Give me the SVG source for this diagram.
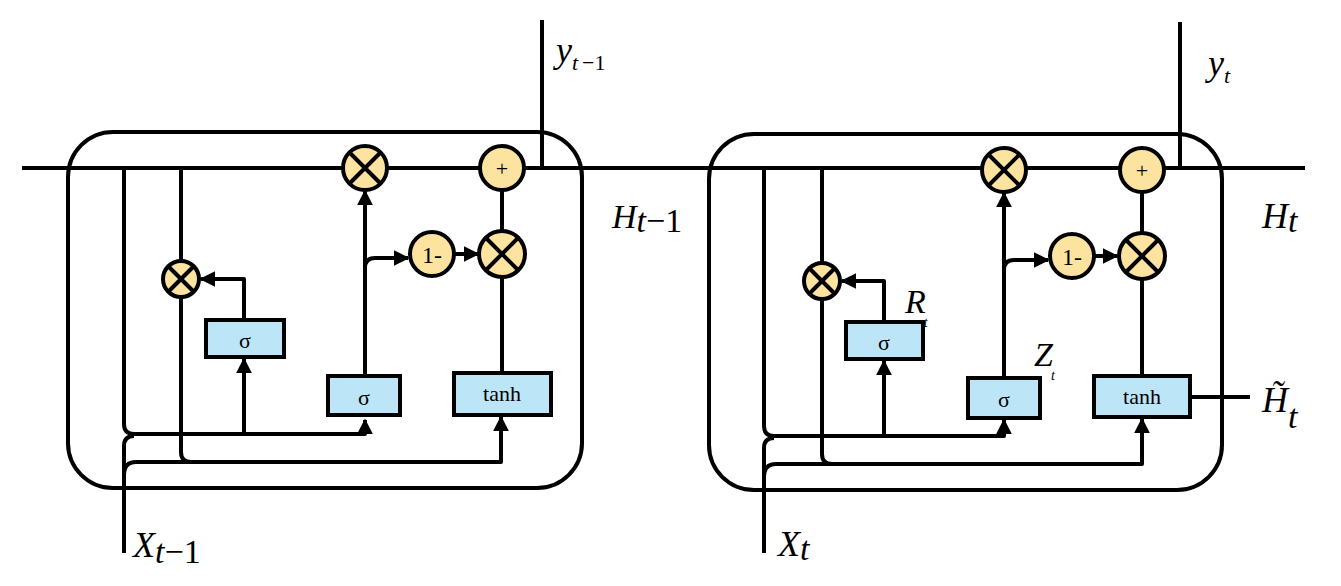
<svg xmlns="http://www.w3.org/2000/svg" width="1341" height="586" viewBox="0 0 1341 586">
<defs>
<marker id="ar" viewBox="0 0 10 10" refX="9" refY="5" markerWidth="4" markerHeight="4" orient="auto" markerUnits="strokeWidth"><path d="M0 0L10 5L0 10z" fill="#000"/></marker>
<style>
.l{fill:none;stroke:#000;stroke-width:4;stroke-linejoin:round}
.a{marker-end:url(#ar)}
.box{fill:#BDE5F8;stroke:#000;stroke-width:4}
.c{fill:#FDE3A0;stroke:#000;stroke-width:4}
.cell{fill:none;stroke:#000;stroke-width:4}
.t{font-family:"Liberation Serif",serif;fill:#000;text-anchor:middle}
.i{font-family:"Liberation Serif",serif;font-style:italic;fill:#000}
</style>
</defs>
<rect class="cell" x="68" y="132" width="514" height="356" rx="45"/>
<rect class="cell" x="709" y="134" width="513" height="356" rx="45"/>
<g id="connectors">
<path class="l" d="M22 168H1305"/>
<path class="l" d="M542 20V168"/>
<path class="l" d="M1180 22V170"/>
<!-- left cell -->
<path class="l" d="M124 168V424Q124 434 134 434H365V420" marker-end="url(#ar)"/>
<path class="l a" d="M244 434V359"/>
<path class="l" d="M124 553V446Q124 436 134 436"/>
<path class="l a" d="M124 475Q124 462 136 462H501V417"/>
<path class="l" d="M181 168V261M181 297V452Q181 462 191 462"/>
<path class="l a" d="M244 319V279H201"/>
<path class="l a" d="M365 375V191"/>
<path class="l a" d="M365 275V268Q365 258 375 258H408"/>
<path class="l a" d="M455 254H478"/>
<path class="l" d="M502 372V277M502 231V190"/>
<!-- right cell -->
<path class="l" d="M764 170V426Q764 436 774 436H1004V420" marker-end="url(#ar)"/>
<path class="l a" d="M884 436V361"/>
<path class="l" d="M764 553V448Q764 438 774 438"/>
<path class="l a" d="M764 477Q764 464 776 464H1142V419"/>
<path class="l" d="M822 170V263M822 299V454Q822 464 832 464"/>
<path class="l a" d="M884 322V281H842"/>
<path class="l a" d="M1004 378V193"/>
<path class="l a" d="M1004 277V270Q1004 260 1014 260H1048"/>
<path class="l a" d="M1094 256H1117"/>
<path class="l" d="M1142 376V279M1142 233V192"/>
<path class="l" d="M1190 397H1250"/>
</g>
<g id="left-sig-r"><rect class="box" x="206" y="320" width="78" height="37"/><text class="t" x="245" y="348" font-size="22">σ</text></g>
<g id="left-sig-z"><rect class="box" x="328" y="376" width="72" height="39"/><text class="t" x="364" y="405" font-size="22">σ</text></g>
<g id="left-tanh"><rect class="box" x="454" y="373" width="97" height="42"/><text class="t" x="502" y="401" font-size="22">tanh</text></g>
<g id="left-mul-r"><circle class="c" cx="181" cy="279" r="18"/><path class="l" d="M168 266L194 292M194 266L168 292"/></g>
<g id="left-mul-z"><circle class="c" cx="365" cy="168" r="22"/><path class="l" d="M349 152L381 184M381 152L349 184"/></g>
<g id="left-one"><circle class="c" cx="432" cy="254" r="22"/><text class="t" x="432" y="263" font-size="24">1-</text></g>
<g id="left-mul-h"><circle class="c" cx="502" cy="254" r="23"/><path class="l" d="M486 238L518 270M518 238L486 270"/></g>
<g id="left-plus"><circle class="c" cx="502" cy="168" r="22"/><text class="t" x="502" y="176" font-size="22">+</text></g>
<g id="right-sig-r"><rect class="box" x="846" y="322" width="77" height="37"/><text class="t" x="884" y="350" font-size="22">σ</text></g>
<g id="right-sig-z"><rect class="box" x="968" y="378" width="72" height="40"/><text class="t" x="1004" y="407" font-size="22">σ</text></g>
<g id="right-tanh"><rect class="box" x="1094" y="376" width="96" height="41"/><text class="t" x="1142" y="404" font-size="22">tanh</text></g>
<g id="right-mul-r"><circle class="c" cx="822" cy="281" r="18"/><path class="l" d="M809 268L835 294M835 268L809 294"/></g>
<g id="right-mul-z"><circle class="c" cx="1004" cy="170" r="22"/><path class="l" d="M988 154L1020 186M1020 154L988 186"/></g>
<g id="right-one"><circle class="c" cx="1072" cy="256" r="22"/><text class="t" x="1072" y="265" font-size="24">1-</text></g>
<g id="right-mul-h"><circle class="c" cx="1142" cy="256" r="23"/><path class="l" d="M1126 240L1158 272M1158 240L1126 272"/></g>
<g id="right-plus"><circle class="c" cx="1142" cy="170" r="22"/><text class="t" x="1142" y="178" font-size="22">+</text></g>
<g id="labels">
<text class="i" x="556" y="62" font-size="36">y<tspan font-size="22" dy="8">t</tspan><tspan font-style="normal" font-size="22" dx="4">−1</tspan></text>
<text class="i" x="612" y="228" font-size="34">H<tspan font-size="34" dy="4">t</tspan><tspan font-style="normal" font-size="34">−1</tspan></text>
<text class="i" x="133" y="557" font-size="36">X<tspan font-size="34" dy="6">t</tspan><tspan font-style="normal" font-size="34">−1</tspan></text>
<text class="i" x="1208" y="75" font-size="36">y<tspan font-size="22" dy="8">t</tspan></text>
<text class="i" x="1262" y="228" font-size="36">H<tspan font-size="34" dy="4">t</tspan></text>
<text class="i" x="1262" y="412" font-size="36">H̃<tspan font-size="34" dy="16">t</tspan></text>
<text class="i" x="778" y="556" font-size="36">X<tspan font-size="34" dy="4">t</tspan></text>
<text class="i" x="905" y="313" font-size="34">R<tspan font-size="14" dy="14" dx="-2">t</tspan></text>
<text class="i" x="1034" y="366" font-size="34">Z<tspan font-size="14" dy="14" dx="-2">t</tspan></text>
</g>
</svg>
